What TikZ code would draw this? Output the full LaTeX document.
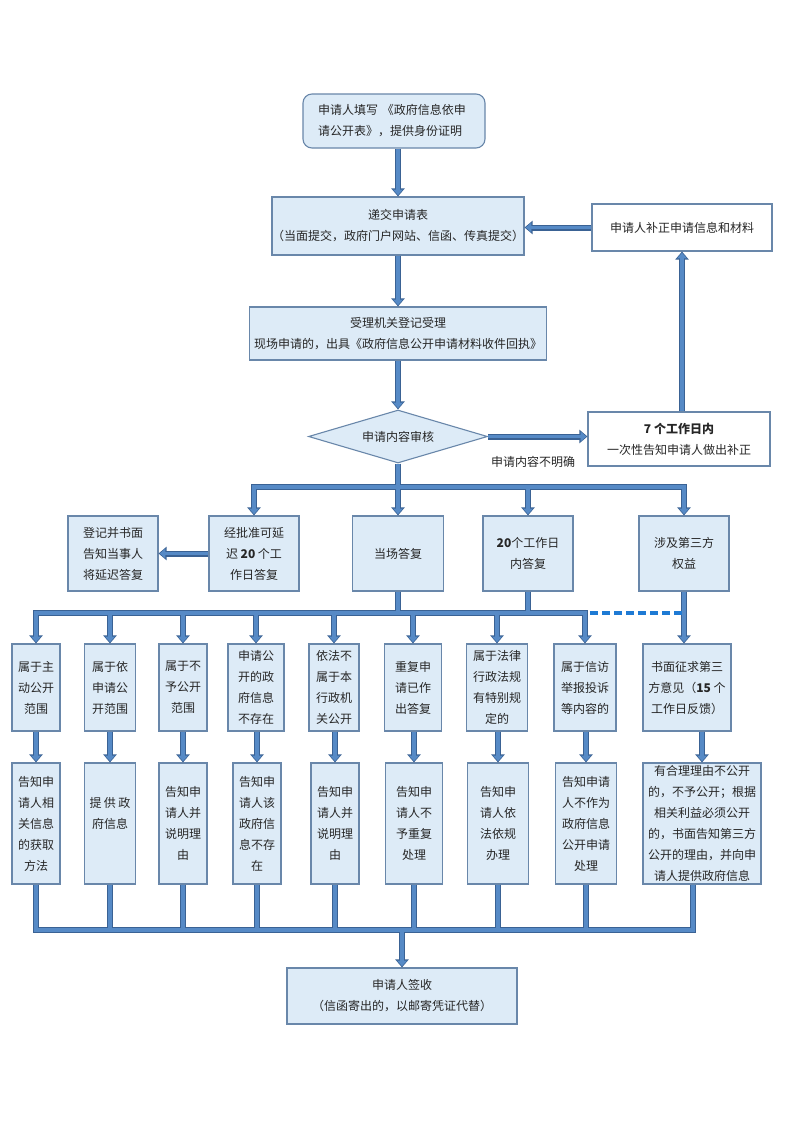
\documentclass[tikz,border=0pt]{standalone}
\usepackage{fontspec}
\setmainfont{Noto Sans CJK SC}
\usetikzlibrary{shapes.geometric,arrows.meta,calc}
\definecolor{boxfill}{RGB}{221,235,247}
\definecolor{boxline}{RGB}{105,135,170}
\definecolor{edgeblue}{RGB}{58,98,148}
\definecolor{innerblue}{RGB}{86,138,198}
\definecolor{dashblue}{RGB}{30,122,212}
\tikzset{
  box/.style={draw=boxline, fill=boxfill, line width=1.1pt, align=center, inner sep=0pt,
    font=\fontsize{12}{21}\selectfont, text=black!85},
  wbox/.style={box, fill=white},
}
\newcommand\allconns{%
  \draw[ar] (b1.south -| b2.north) -- (b2.north);
  \draw[ar] (b2.south) -- (b3.north);
  \draw[ar] (b3.south) -- (dia.north);
  \draw[ar] (dia.east) -- (dia.east -| d7.west);
  \draw[ar] (bz.south |- d7.north) -- (bz.south);
  \draw[ar] (bz.west) -- (bz.west -| b2.east);
  \draw[bar] (r1b.north |- y1) -- (r1e.north |- y1);
  \draw[ar] (dia.south) -- (dia.south |- r1c.north);
  \draw[ar] (r1b.north |- y1) -- (r1b.north);
  \draw[ar] (r1d.north |- y1) -- (r1d.north);
  \draw[ar] (r1e.north |- y1) -- (r1e.north);
  \draw[ar] (r1b.west) -- (r1b.west -| r1a.east);
  \draw[ln] (r1c.south) -- (r1c.south |- y2);
  \draw[ln] (r1d.south) -- (r1d.south |- y2);
  \draw[bar] (r2a.north |- y2) -- (r2h.north |- y2);
  \foreach \c in {a,b,c,d,e,f,g,h}{
    \draw[ar] (r2\c.north |- y2) -- (r2\c.north);
    \draw[ar] (r3\c.north |- r2\c.south) -- (r3\c.north);
    \draw[ln] (r3\c.south) -- (r3\c.south |- y3);
  }
  \draw[ar] (r1e.south) -- (r1e.south |- r2i.north);
  \draw[ar] (r2i.south -| r3i.north) -- (r3i.north);
  \draw[ln] (x9 |- r3i.south) -- (x9);
  \draw[bar] (r3a.south |- y3) -- (x9);
  \draw[ar] (fin.north |- y3) -- (fin.north);
}
\begin{document}
\begin{tikzpicture}[x=1pt,y=-1pt]
\useasboundingbox (0,0) rectangle (793,1122);
\fill[white] (0,0) rectangle (793,1122);

\coordinate (y1) at (0,487);
\coordinate (y2) at (0,613);
\coordinate (y3) at (0,930);
\coordinate (x9) at (693,930);

% top part
\node[box, rounded corners=9pt, minimum width=182pt, minimum height=54pt, text width=152pt, align=left, inner xsep=15pt] (b1) at (394,121)
  {申请人填写 《政府信息依申\\请公开表》，提供身份证明};
\node[box, minimum width=252pt, minimum height=58pt] (b2) at (398,226)
  {递交申请表\\（当面提交，政府门户网站、信函、传真提交）};
\node[wbox, minimum width=180pt, minimum height=47pt] (bz) at (682,227.5)
  {申请人补正申请信息和材料};
\node[box, minimum width=297pt, minimum height=53pt] (b3) at (398,333.5)
  {受理机关登记受理\\现场申请的，出具《政府信息公开申请材料收件回执》};
\node[box, diamond, aspect=3.38, minimum width=179pt, minimum height=53pt] (dia) at (398,436.5)
  {申请内容审核};
\node[wbox, minimum width=182pt, minimum height=54pt] (d7) at (679,439)
  {{\bfseries 7 个工作日内}\\一次性告知申请人做出补正};
\node[font=\fontsize{12}{14}\selectfont, text=black!85, inner sep=0pt] (lbl) at (533,462) {申请内容不明确};

% row 1
\node[box, minimum width=90pt, minimum height=75pt] (r1a) at (113,553.5) {登记并书面\\告知当事人\\将延迟答复};
\node[box, minimum width=90pt, minimum height=75pt] (r1b) at (254,553.5) {经批准可延\\迟 {\bfseries 20} 个工\\作日答复};
\node[box, minimum width=91pt, minimum height=75pt] (r1c) at (398,553.5) {当场答复};
\node[box, minimum width=90pt, minimum height=75pt] (r1d) at (528,553.5) {{\bfseries 20}个工作日\\内答复};
\node[box, minimum width=90pt, minimum height=75pt] (r1e) at (684,553.5) {涉及第三方\\权益};

% row 2
\node[box, minimum width=48pt, minimum height=87pt] (r2a) at (36,687.5) {属于主\\动公开\\范围};
\node[box, minimum width=51pt, minimum height=87pt] (r2b) at (110,687.5) {属于依\\申请公\\开范围};
\node[box, minimum width=48pt, minimum height=87pt] (r2c) at (183,687.5) {属于不\\予公开\\范围};
\node[box, minimum width=56pt, minimum height=87pt] (r2d) at (256,687.5) {申请公\\开的政\\府信息\\不存在};
\node[box, minimum width=50pt, minimum height=87pt] (r2e) at (334,687.5) {依法不\\属于本\\行政机\\关公开};
\node[box, minimum width=57pt, minimum height=87pt] (r2f) at (413,687.5) {重复申\\请已作\\出答复};
\node[box, minimum width=61pt, minimum height=87pt] (r2g) at (497,687.5) {属于法律\\行政法规\\有特别规\\定的};
\node[box, minimum width=62pt, minimum height=87pt] (r2h) at (585,687.5) {属于信访\\举报投诉\\等内容的};
\node[box, minimum width=88pt, minimum height=87pt] (r2i) at (687,687.5) {书面征求第三\\方意见（{\bfseries 15} 个\\工作日反馈）};

% row 3
\node[box, minimum width=48pt, minimum height=121pt] (r3a) at (36,823.5) {告知申\\请人相\\关信息\\的获取\\方法};
\node[box, minimum width=51pt, minimum height=121pt] (r3b) at (110,823.5) {提\hspace{2.5pt}供\hspace{2.5pt}政\\府信息\\\mbox{}};
\node[box, minimum width=48pt, minimum height=121pt] (r3c) at (183,823.5) {告知申\\请人并\\说明理\\由};
\node[box, minimum width=48pt, minimum height=121pt] (r3d) at (257,823.5) {告知申\\请人该\\政府信\\息不存\\在};
\node[box, minimum width=48pt, minimum height=121pt] (r3e) at (335,823.5) {告知申\\请人并\\说明理\\由};
\node[box, minimum width=57pt, minimum height=121pt] (r3f) at (414,823.5) {告知申\\请人不\\予重复\\处理};
\node[box, minimum width=61pt, minimum height=121pt] (r3g) at (498,823.5) {告知申\\请人依\\法依规\\办理};
\node[box, minimum width=61pt, minimum height=121pt] (r3h) at (586,823.5) {告知申请\\人不作为\\政府信息\\公开申请\\处理};
\node[box, minimum width=118pt, minimum height=121pt] (r3i) at (702,823.5) {有合理理由不公开\\的，不予公开；根据\\相关利益必须公开\\的，书面告知第三方\\公开的理由，并向申\\请人提供政府信息};

% final
\node[box, minimum width=230pt, minimum height=56pt] (fin) at (402,996) {申请人签收\\（信函寄出的，以邮寄凭证代替）};

% connectors: outline pass, then inner pass
\begin{scope}[ln/.style={draw=edgeblue, line width=6pt},
              bar/.style={ln, line cap=rect},
              ar/.style={ln, -{Triangle[width=13pt,length=8pt]}}]
  \allconns
\end{scope}
\begin{scope}[ln/.style={draw=innerblue, line width=3.6pt},
              bar/.style={ln, line cap=rect},
              ar/.style={ln, -{Triangle[width=9.5pt,length=5.5pt]}, shorten >=1.3pt}]
  \allconns
\end{scope}
\draw[dashblue, line width=4pt, dash pattern=on 8pt off 4pt] ($(r2h.north |- y2)+(5,0)$) -- ($(r1e.south |- y2)+(-2,0)$);
\end{tikzpicture}
\end{document}
